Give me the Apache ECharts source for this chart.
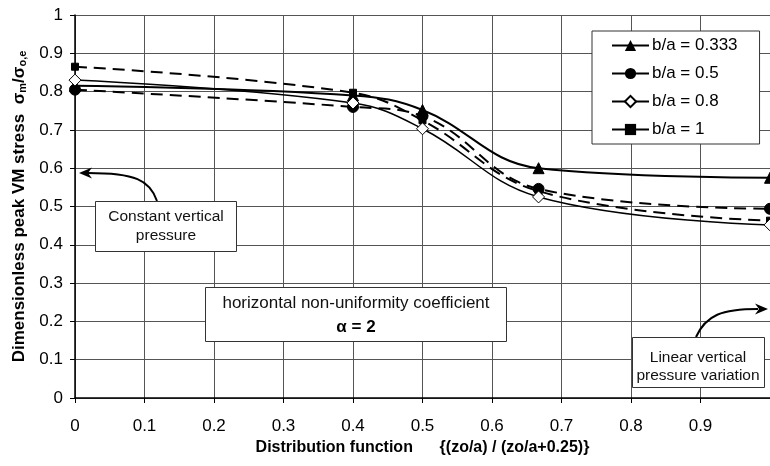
<!DOCTYPE html>
<html>
<head>
<meta charset="utf-8">
<script src="https://cdn.jsdelivr.net/npm/echarts@6/dist/echarts.min.js"></script>
<style>
html,body{margin:0;padding:0;background:#fff;}
#chart{width:770px;height:466px;}
</style>
</head>
<body>
<div id="chart"></div>
<script>
// ---- data ----
const xValues = [0, 0.4, 0.5, 0.667, 1];
const seriesNames = ['b/a = 0.333', 'b/a = 0.5', 'b/a = 0.8', 'b/a = 1'];
const vals0333 = [0.815, 0.79, 0.752, 0.600, 0.575];
const vals05   = [0.805, 0.760, 0.736, 0.546, 0.494];
const vals08   = [0.830, 0.770, 0.703, 0.525, 0.452];
const vals1    = [0.865, 0.797, 0.725, 0.540, 0.463];
const yTicks = [0, 0.1, 0.2, 0.3, 0.4, 0.5, 0.6, 0.7, 0.8, 0.9, 1];
const xTicks = [0, 0.1, 0.2, 0.3, 0.4, 0.5, 0.6, 0.7, 0.8, 0.9];

const FONT = '"Liberation Sans", Arial, sans-serif';
function pairs(v){ return xValues.map((x,i)=>[x, v[i]]); }

const chart = echarts.init(document.getElementById('chart'), null, {renderer:'canvas'});

const option = {
  animation: false,
  backgroundColor: '#fff',
  textStyle: {fontFamily: FONT, color: '#000'},
  grid: {left: 75, top: 15, width: 696, height: 383, containLabel: false},
  xAxis: {
    type: 'value', min: 0, max: 1, interval: 0.1,
    name: 'Distribution function      {(zo/a) / (zo/a+0.25)}',
    nameLocation: 'middle', nameGap: 31,
    nameTextStyle: {fontFamily: FONT, fontWeight: 'bold', fontSize: 16, color: '#000'},
    axisLine: {show: true, onZero: false, lineStyle: {color: '#000', width: 1.5}},
    axisTick: {show: true, length: 5, lineStyle: {color: '#000'}},
    axisLabel: {fontFamily: FONT, fontSize: 17, color: '#000', margin: 20, showMaxLabel: false,
      formatter: v => (xTicks.indexOf(Math.round(v*10)/10) >= 0 ? String(Math.round(v*10)/10) : '')},
    splitLine: {show: true, lineStyle: {color: '#555', width: 1}}
  },
  yAxis: {
    type: 'value', min: 0, max: 1, interval: 0.1,
    name: '{b|Dimensionless peak VM stress  σ}{s|m}{b|/σ}{s|o,e}',
    nameLocation: 'middle', nameRotate: 90, nameGap: 47,
    nameTextStyle: {
      fontFamily: FONT, fontWeight: 'bold', fontSize: 17, color: '#000',
      rich: {
        b: {fontFamily: FONT, fontWeight: 'bold', fontSize: 17, color: '#000', lineHeight: 20, verticalAlign: 'bottom'},
        s: {fontFamily: FONT, fontWeight: 'bold', fontSize: 11, color: '#000', lineHeight: 16, verticalAlign: 'bottom'}
      }
    },
    axisLine: {show: true, lineStyle: {color: '#000', width: 1.5}},
    axisTick: {show: true, length: 5, lineStyle: {color: '#000'}},
    axisLabel: {fontFamily: FONT, fontSize: 17, color: '#000', margin: 12,
      formatter: v => { const r = Math.round(v*10)/10; return yTicks.indexOf(r) >= 0 ? String(r) : ''; }},
    splitLine: {show: true, lineStyle: {color: '#555', width: 1}}
  },
  legend: {
    orient: 'vertical', left: 592, top: 31,
    padding: [6, 22, 6, 19],
    itemWidth: 37, itemHeight: 14, itemGap: 11,
    backgroundColor: '#fff', borderColor: '#333', borderWidth: 1,
    textStyle: {fontFamily: FONT, fontSize: 17, color: '#000', padding: [0,0,0,-2]},
    data: [
      {name: seriesNames[0]},
      {name: seriesNames[1], lineStyle: {type: 'solid'}},
      {name: seriesNames[2]},
      {name: seriesNames[3], lineStyle: {type: 'solid'}}
    ]
  },
  series: [
    {
      name: seriesNames[0], type: 'line', smooth: 0.4, data: pairs(vals0333),
      symbol: 'triangle', symbolSize: 11,
      itemStyle: {color: '#000', borderColor: '#000'},
      lineStyle: {color: '#000', width: 2}, z: 4
    },
    {
      name: seriesNames[1], type: 'line', smooth: 0.4, data: pairs(vals05),
      symbol: 'circle', symbolSize: 11,
      itemStyle: {color: '#000', borderColor: '#000'},
      lineStyle: {color: '#000', width: 2, type: [12, 7]}, z: 3
    },
    {
      name: seriesNames[2], type: 'line', smooth: 0.4, data: pairs(vals08),
      symbol: 'diamond', symbolSize: 12,
      itemStyle: {color: '#fff', borderColor: '#000', borderWidth: 1},
      lineStyle: {color: '#000', width: 1.5}, z: 5
    },
    {
      name: seriesNames[3], type: 'line', smooth: 0.4, data: pairs(vals1),
      symbol: 'rect', symbolSize: 7,
      itemStyle: {color: '#000', borderColor: '#000'},
      lineStyle: {color: '#000', width: 2, type: [12, 7]}, z: 2
    }
  ],
  graphic: [
    // arrow 1
    {type: 'bezierCurve', shape: {x1: 157, y1: 201, cpx1: 150, cpy1: 180, cpx2: 135, cpy2: 173, x2: 88, y2: 173},
      style: {stroke: '#000', lineWidth: 2, fill: null}, z: 20},
    {type: 'polygon', shape: {points: [[79,173],[92,167.5],[88,173],[92,178.5]]}, style: {fill: '#000'}, z: 20},
    // box 1
    {type: 'rect', shape: {x: 95.5, y: 201.5, width: 141, height: 50}, style: {fill: '#fff', stroke: '#333', lineWidth: 1}, z: 21},
    {type: 'text', x: 166, y: 226.5, style: {text: 'Constant vertical\npressure', font: '15.5px ' + FONT, fill: '#111', align: 'center', verticalAlign: 'middle', lineHeight: 19}, z: 22},
    // box middle
    {type: 'rect', shape: {x: 205.5, y: 287.5, width: 301, height: 54}, style: {fill: '#fff', stroke: '#333', lineWidth: 1}, z: 21},
    {type: 'text', x: 356, y: 303, style: {text: 'horizontal non-uniformity coefficient', font: '17px ' + FONT, fill: '#111', align: 'center', verticalAlign: 'middle'}, z: 22},
    {type: 'text', x: 356, y: 327, style: {text: 'α = 2', font: 'bold 17px ' + FONT, fill: '#000', align: 'center', verticalAlign: 'middle'}, z: 22},
    // arrow 2
    {type: 'bezierCurve', shape: {x1: 696, y1: 337, cpx1: 706, cpy1: 315, cpx2: 722, cpy2: 309, x2: 758, y2: 309},
      style: {stroke: '#000', lineWidth: 2, fill: null}, z: 20},
    {type: 'polygon', shape: {points: [[768,309],[755,303.5],[759,309],[755,314.5]]}, style: {fill: '#000'}, z: 20},
    // box 2
    {type: 'rect', shape: {x: 632.5, y: 337.5, width: 132, height: 50}, style: {fill: '#fff', stroke: '#333', lineWidth: 1}, z: 21},
    {type: 'text', x: 698, y: 366.5, style: {text: 'Linear vertical\npressure variation', font: '15.5px ' + FONT, fill: '#111', align: 'center', verticalAlign: 'middle', lineHeight: 18}, z: 22}
  ]
};
chart.setOption(option);
</script>
</body>
</html>
